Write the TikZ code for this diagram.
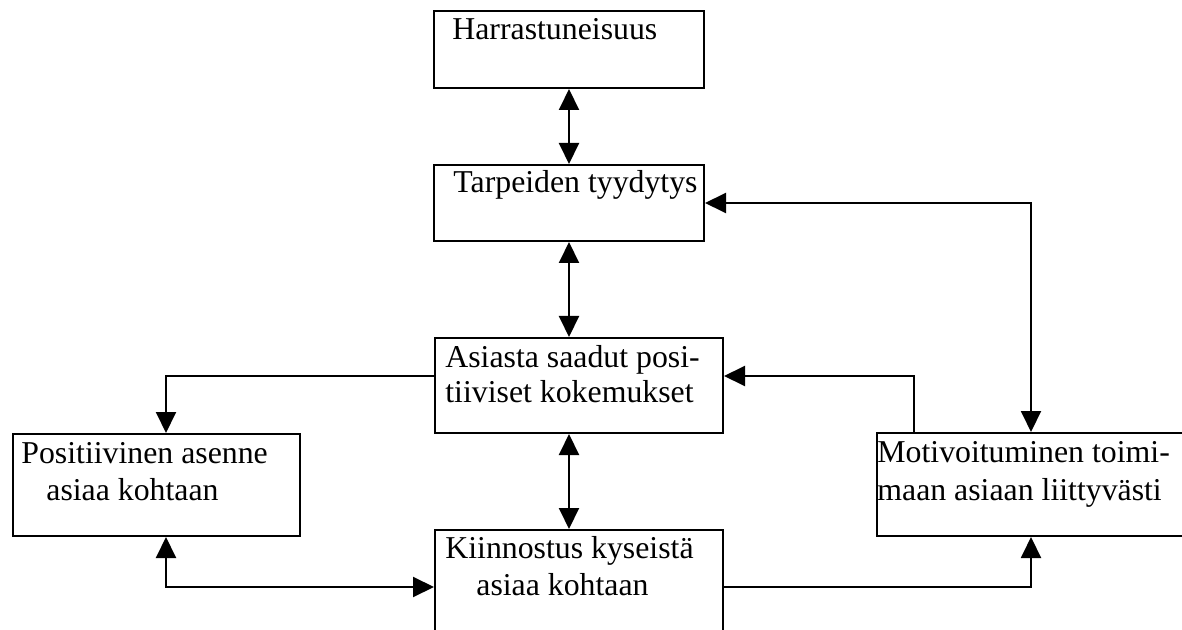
\documentclass[tikz,border=0pt]{standalone}
\usepackage{fontspec}
\setmainfont{Liberation Serif}
\usetikzlibrary{arrows.meta}

\begin{document}
\begin{tikzpicture}[x=0.5pt, y=-0.5pt,
		box/.style={draw, line width=1pt, inner sep=0pt, anchor=north west},
		txt/.style={inner sep=0pt, anchor=base west, font=\fontsize{15.9}{18}\selectfont},
		link/.style={line width=1pt, arrows={-Triangle[length=10.5pt, width=10pt]}},
		biglink/.style={line width=1pt, arrows={Triangle[length=10.5pt, width=10pt]-Triangle[length=10.5pt, width=10pt]}}]
		%%%%% START %%%%%
		
		\useasboundingbox (0, 0) rectangle (1182, 630);
		
		\node[box, minimum width=135pt, minimum height=38.5pt] (harr) at (433, 10) {};
		\node[box, minimum width=135pt, minimum height=38pt] (tarp) at (433, 164) {};
		\node[box, minimum width=144pt, minimum height=47.5pt] (koke) at (434, 337) {};
		\node[box, minimum width=143.5pt, minimum height=51pt] (asen) at (12, 433) {};
		\node[box, minimum width=144pt, minimum height=57pt] (kiin) at (434, 529) {};
		\node[box, minimum width=160pt, minimum height=51.5pt] (moti) at (876, 432) {};
		
		\node[txt] (harr1) at (452, 40) {Harrastuneisuus};
		\node[txt] (tarp1) at (453, 193) {Tarpeiden tyydytys};
		\node[txt] (koke1) at (445, 367) {Asiasta saadut posi-};
		\node[txt] (koke2) at (445, 402) {tiiviset kokemukset};
		\node[txt] (asen1) at (21, 463) {Positiivinen asenne};
		\node[txt] (asen2) at (46, 500) {asiaa kohtaan};
		\node[txt] (kiin1) at (445, 558) {Kiinnostus kyseistä};
		\node[txt] (kiin2) at (476, 595) {asiaa kohtaan};
		\node[txt] (moti1) at (877, 462) {Motivoituminen toimi-};
		\node[txt] (moti2) at (877, 500) {maan asiaan liittyvästi};
		
		\draw[biglink] (harr.south) -- (tarp.north);
		\draw[biglink] (tarp.south) -- (tarp.south |- koke.north);
		\draw[biglink] (tarp.south |- koke.south) -- (tarp.south |- kiin.north);
		
		\draw[biglink] (tarp.east) -| ([xshift=-3pt]moti.north);
		\draw[link] ([xshift=19pt]moti.north west) |- ([yshift=4.75pt]koke.east);
		\draw[link] ([yshift=4.75pt]koke.west) -| ([xshift=4.75pt]asen.north);
		
		\draw[biglink] ([xshift=4.75pt]asen.south) |- (kiin.west);
		\draw[link] (kiin.east) -| ([xshift=-3pt]moti.south);
		
		%%%%% END %%%%%
	\end{tikzpicture}
\end{document}
